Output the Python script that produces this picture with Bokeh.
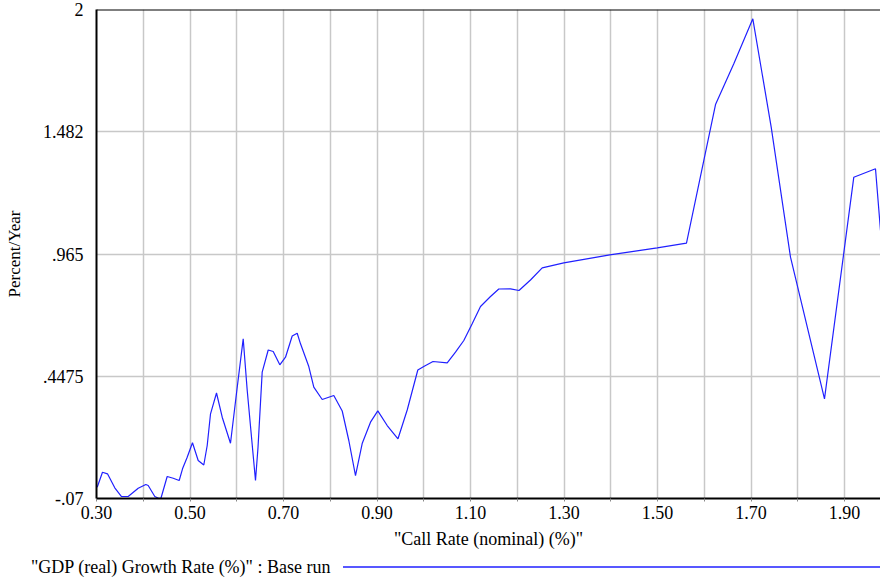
from bokeh.plotting import figure
from bokeh.models import FixedTicker, Range1d, Span, Div
from bokeh.layouts import column
from bokeh.embed import file_html
from bokeh.resources import INLINE

# Data
call_rate = [0.3015, 0.3128, 0.3235, 0.3391, 0.3535, 0.3678, 0.3892, 0.4055, 0.4106, 0.4247,
             0.4337, 0.4380, 0.4512, 0.4641, 0.4769, 0.4840, 0.4940, 0.5053, 0.5175, 0.5295,
             0.5368, 0.5439, 0.5567, 0.5689, 0.5866, 0.6010, 0.6138, 0.6224, 0.6401, 0.6455,
             0.6544, 0.6673, 0.6780, 0.6921, 0.7043, 0.7186, 0.7293, 0.7364, 0.7541, 0.7648,
             0.7828, 0.8076, 0.8256, 0.8397, 0.8540, 0.8683, 0.8861, 0.9017, 0.9218, 0.9449,
             0.9646, 0.9873, 1.0001, 1.0198, 1.0502, 1.0679, 1.0857, 1.1036, 1.1214, 1.1428,
             1.1605, 1.1856, 1.2037, 1.2283, 1.2534, 1.2996, 1.3980, 1.4994, 1.5620, 1.6241,
             1.6632, 1.7039, 1.7432, 1.7845, 1.8572, 1.9199, 1.9663, 1.9770]
gdp_growth = [-0.0222, 0.0413, 0.0345, -0.0247, -0.0616, -0.0616, -0.0264, -0.0108, -0.0150, -0.0616,
              -0.0700, -0.0679, 0.0231, 0.0159, 0.0062, 0.0557, 0.1048, 0.1658, 0.0908, 0.0718,
              0.1543, 0.2885, 0.3766, 0.2741, 0.1641, 0.4011, 0.6060, 0.3872, 0.0062, 0.1471,
              0.4646, 0.5586, 0.5523, 0.4960, 0.5281, 0.6179, 0.6297, 0.5848, 0.4887, 0.4011,
              0.3491, 0.3660, 0.3004, 0.1755, 0.0273, 0.1628, 0.2530, 0.3012, 0.2390, 0.1827,
              0.3046, 0.4739, 0.4887, 0.5099, 0.5044, 0.5493, 0.5988, 0.6695, 0.7427, 0.7851,
              0.8168, 0.8177, 0.8105, 0.8549, 0.9066, 0.9277, 0.9616, 0.9912, 1.0107, 1.5978,
              1.7701, 1.9606, 1.5018, 0.9514, 0.3520, 1.2901, 1.3257, 1.0645]

x_major_ticks = [0.3, 0.5, 0.7, 0.9, 1.1, 1.3, 1.5, 1.7, 1.9]
x_minor_ticks = [0.4, 0.6, 0.8, 1.0, 1.2, 1.4, 1.6, 1.8]
y_ticks = [-0.07, 0.4475, 0.965, 1.4825, 2.0]
y_labels = ["-.07", ".4475", ".965", "1.482", "2"]

x_label = '"Call Rate (nominal) (%)"'
y_label = "Percent/Year"
series_label = '"GDP (real) Growth Rate (%)" : Base run'

FONT = "Liberation Serif"
GRID = "#c8c8c8"
LINE = "#2020ff"

p = figure(width=880, height=556, output_backend="svg", toolbar_location=None,
           x_range=Range1d(0.30, 1.977), y_range=Range1d(-0.07, 2.0))
p.min_border_left = 96
p.min_border_top = 9
p.min_border_right = 0
p.min_border_bottom = 58
p.outline_line_color = None
p.background_fill_color = "white"
p.border_fill_color = "white"

p.line(call_rate, gdp_growth, line_color=LINE, line_width=1.2)

# x axis
xa = p.xaxis[0]
xa.ticker = FixedTicker(ticks=x_major_ticks, minor_ticks=x_minor_ticks)
xa.major_label_overrides = {t: f"{t:.2f}" for t in x_major_ticks}
xa.axis_label = x_label
xa.axis_line_color = "black"
xa.axis_line_width = 2
xa.major_tick_out = 3
xa.major_tick_in = 0
xa.minor_tick_out = 3
xa.minor_tick_in = 0
xa.major_tick_line_color = "#888888"
xa.minor_tick_line_color = "#888888"
xa.major_label_standoff = 4
xa.axis_label_standoff = 7
xa.major_label_text_font = FONT
xa.major_label_text_font_size = "18px"
xa.major_label_text_color = "black"
xa.axis_label_text_font = FONT
xa.axis_label_text_font_size = "18px"
xa.axis_label_text_font_style = "normal"
xa.axis_label_text_color = "black"

# y axis
ya = p.yaxis[0]
ya.ticker = FixedTicker(ticks=y_ticks, minor_ticks=[])
ya.major_label_overrides = dict(zip(y_ticks, y_labels))
ya.axis_label = y_label
ya.axis_line_color = "black"
ya.axis_line_width = 2
ya.major_tick_out = 0
ya.major_tick_in = 0
ya.minor_tick_out = 0
ya.minor_tick_in = 0
ya.major_label_standoff = 13
ya.axis_label_standoff = 16
ya.major_label_text_font = FONT
ya.major_label_text_font_size = "18px"
ya.major_label_text_color = "black"
ya.axis_label_text_font = FONT
ya.axis_label_text_font_size = "17px"
ya.axis_label_text_font_style = "normal"
ya.axis_label_text_color = "black"

# grids
p.xgrid.grid_line_color = GRID
p.xgrid.grid_line_width = 1.5
p.xgrid.minor_grid_line_color = GRID
p.xgrid.minor_grid_line_width = 1.5
p.ygrid.grid_line_color = GRID
p.ygrid.grid_line_width = 1.5

# top border of the plot area
p.add_layout(Span(location=2.0, dimension="width", line_color="black", line_width=2))

# legend strip below: label followed by a long line sample
legend_html = (
    '<div style="position:relative;height:23px;width:880px;'
    "font-family:'Liberation Serif';font-size:18px;color:black;white-space:nowrap;\">"
    f'<span style="position:absolute;left:31px;top:1px;line-height:21px;">{series_label}</span>'
    '<svg style="position:absolute;left:343px;top:9px;" width="537" height="4">'
    f'<line x1="0" y1="2" x2="537" y2="2" stroke="{LINE}" stroke-width="1.3"/></svg>'
    '</div>'
)
leg = Div(text=legend_html, width=880, height=23, margin=0)

layout = column(p, leg, spacing=0)

open("out.html", "w").write(file_html(layout, INLINE))
